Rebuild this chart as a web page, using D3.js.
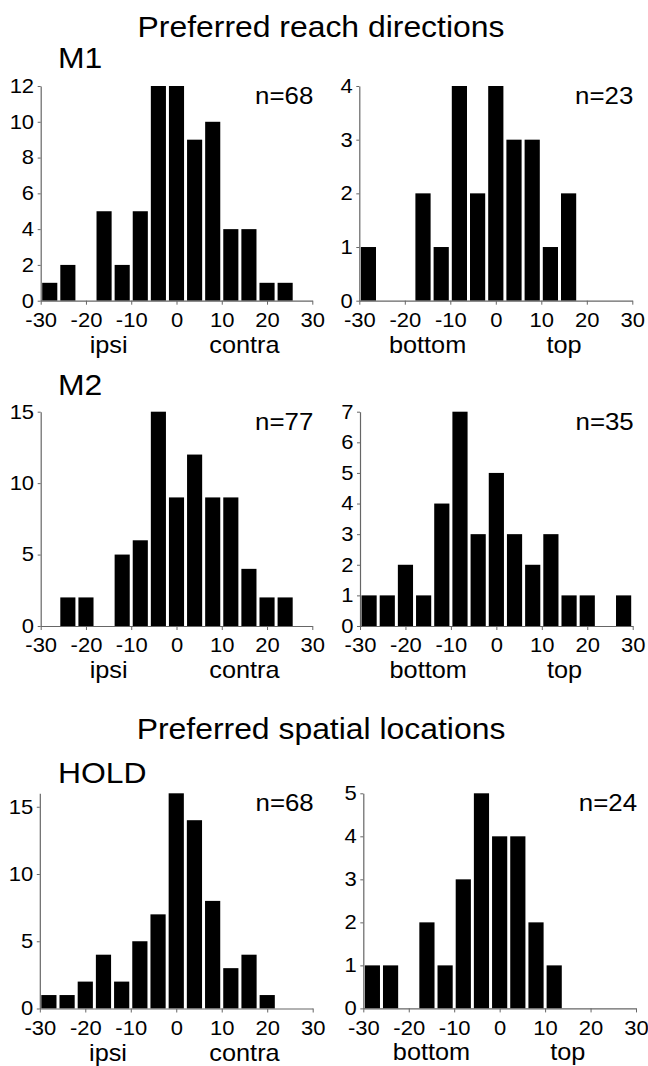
<!DOCTYPE html>
<html>
<head>
<meta charset="utf-8">
<script src="https://cdn.jsdelivr.net/npm/d3@7"></script>
<style>
  body { margin: 0; background: #fff; }
  svg text { font-family: "Liberation Sans", Arial, Helvetica, sans-serif; fill: #000; }
</style>
</head>
<body>
<div id="chart"></div>
<script>
// bin edges (deg), bins are 4 wide
let binEdges = [-30, -26, -22, -18, -14, -10, -6, -2, 2, 6, 10, 14, 18, 22, 26, 30];

// counts per bin
let m1Horiz = [1, 2, 0, 5, 2, 5, 12, 12, 9, 10, 4, 4, 1, 1];
let m1Vert = [1, 0, 0, 2, 1, 4, 2, 4, 3, 3, 1, 2];
let m2Horiz = [0, 2, 2, 0, 5, 6, 15, 9, 12, 9, 9, 4, 2, 2];
let m2Vert = [1, 1, 2, 1, 4, 7, 3, 5, 3, 2, 3, 1, 1, 0, 1];
let holdHoriz = [1, 1, 2, 4, 2, 5, 7, 16, 14, 8, 3, 4, 1];
let holdVert = [1, 1, 0, 2, 1, 3, 5, 4, 4, 2, 1];

let xTicks = [-30, -20, -10, 0, 10, 20, 30];
let nLabels = ["n=68", "n=23", "n=77", "n=35", "n=68", "n=24"];
let yMax = [12, 4, 15, 7, 16, 5];
let yTicks = [[0, 2, 4, 6, 8, 10, 12], [0, 1, 2, 3, 4], [0, 5, 10, 15],
              [0, 1, 2, 3, 4, 5, 6, 7], [0, 5, 10, 15], [0, 1, 2, 3, 4, 5]];
let horizWords = ["ipsi", "contra"];
let vertWords = ["bottom", "top"];
let titles = ["Preferred reach directions", "Preferred spatial locations"];
let headings = ["M1", "M2", "HOLD"];

let width = 648, height = 1066;
const SX = 1.1; // the figure's lettering is a bit wide

const svg = d3.select("#chart").append("svg")
    .attr("width", width)
    .attr("height", height);

function txt(x, y, s, size, anchor) {
    svg.append("text")
        .attr("transform", `translate(${x},${y}) scale(${SX},1)`)
        .attr("text-anchor", anchor || "start")
        .style("font-size", size + "px")
        .text(s);
}

// plain hyphen minus, integers only
let fmt = d => String(d);

// panel frames: x range, y range (bottom, top)
let panels = [
    {data: m1Horiz,   x0: 40.7, x1: 312.3, yb: 300.7, yt: 86,    words: horizWords},
    {data: m1Vert,    x0: 359.3, x1: 632.3, yb: 300.7, yt: 86,   words: vertWords},
    {data: m2Horiz,   x0: 40.7, x1: 312.3, yb: 626,   yt: 411.7, words: horizWords},
    {data: m2Vert,    x0: 360,  x1: 632.7, yb: 626,   yt: 411.7, words: vertWords},
    {data: holdHoriz, x0: 39.8, x1: 312.7, yb: 1008.5, yt: 793.3, words: horizWords},
    {data: holdVert,  x0: 363.3, x1: 636,  yb: 1008.4, yt: 793.3, words: vertWords}
];

panels.forEach(function(p, i) {
    let x = d3.scaleLinear().domain([-30, 30]).range([p.x0, p.x1]);
    let y = d3.scaleLinear().domain([0, yMax[i]]).range([p.yb, p.yt]);
    let g = svg.append("g");

    //bars
    g.selectAll("rect")
        .data(p.data)
        .enter()
        .append("rect")
        .attr("x", (d, k) => x(binEdges[k]) + 1.5)
        .attr("width", (d, k) => x(binEdges[k + 1]) - x(binEdges[k]) - 3)
        .attr("y", d => y(d))
        .attr("height", d => y(0) - y(d))
        .attr("fill", "#000");

    //axes
    let ax = g.append("g")
        .attr("transform", `translate(0,${p.yb})`)
        .call(d3.axisBottom(x).tickValues(xTicks).tickFormat(fmt)
            .tickSize(4).tickSizeOuter(0).tickPadding(8));
    let ay = g.append("g")
        .attr("transform", `translate(${p.x0},0)`)
        .call(d3.axisLeft(y).tickValues(yTicks[i]).tickFormat(fmt)
            .tickSize(3).tickSizeOuter(0).tickPadding(3));
    [ax, ay].forEach(a => {
        a.attr("font-family", null);
        a.select(".domain").attr("stroke", "#666").attr("stroke-width", 1.2);
        a.selectAll(".tick line").attr("stroke", "#666");
        a.selectAll(".tick text")
            .attr("fill", "#000")
            .style("font-size", "20px")
            .attr("transform", `scale(${SX},1)`);
    });

    //n= label and side words
    txt(p.x1 + 1, p.yt + 18, nLabels[i], 23.5, "end");
    txt(x(-15), p.yb + 52, p.words[0], 23, "middle");
    txt(x(15), p.yb + 52, p.words[1], 23, "middle");
});

//titles and headings
txt(321, 37, titles[0], 29, "middle");
txt(321, 739, titles[1], 29, "middle");
txt(58, 68, headings[0], 29);
txt(58, 395, headings[1], 29);
txt(58, 782.7, headings[2], 29);
</script>
</body>
</html>
